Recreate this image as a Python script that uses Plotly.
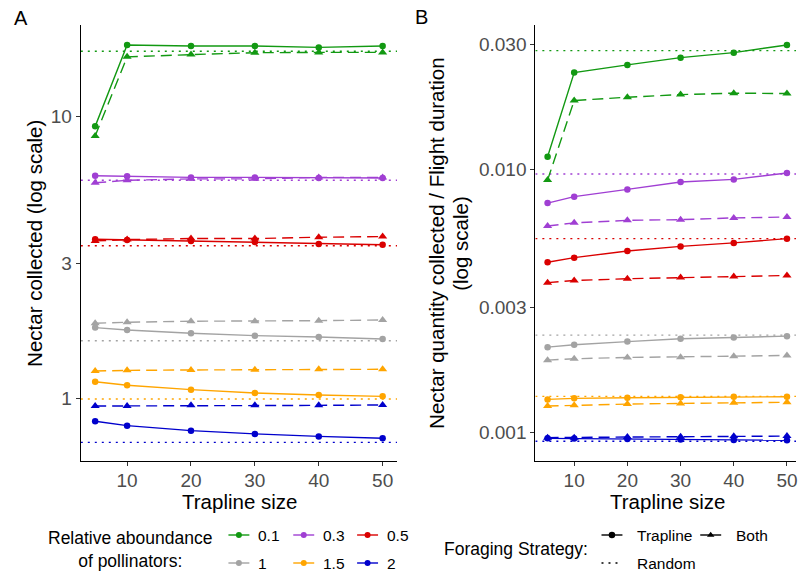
import plotly.graph_objects as go

# ---------------- data ----------------
trapline_size = [5, 10, 20, 30, 40, 50]
abundance = ["0.1", "0.3", "0.5", "1", "1.5", "2"]
colors = ["#129912", "#A03FD3", "#DA0000", "#A3A3A3", "#FFA500", "#0000CC"]

# Panel A: nectar collected
nectar_trapline = [
    [9.19, 17.84, 17.7, 17.7, 17.5, 17.7],
    [6.14, 6.12, 6.06, 6.06, 6.03, 6.03],
    [3.66, 3.64, 3.61, 3.58, 3.52, 3.50],
    [1.78, 1.746, 1.70, 1.667, 1.649, 1.622],
    [1.145, 1.112, 1.073, 1.044, 1.027, 1.016],
    [0.829, 0.80, 0.768, 0.748, 0.733, 0.722],
]
nectar_both = [
    [8.5, 16.2, 16.5, 16.76, 16.8, 16.8],
    [5.80, 5.92, 5.99, 5.99, 6.06, 6.06],
    [3.61, 3.65, 3.68, 3.68, 3.72, 3.74],
    [1.844, 1.86, 1.875, 1.875, 1.884, 1.894],
    [1.249, 1.256, 1.26, 1.263, 1.267, 1.267],
    [0.939, 0.939, 0.944, 0.944, 0.944, 0.947],
]
nectar_random = [16.95, 5.92, 3.47, 1.60, 0.994, 0.698]

# Panel B: nectar / flight duration
rate_trapline = [
    [0.01121, 0.02342, 0.02505, 0.0267, 0.0279, 0.02983],
    [0.00747, 0.0079, 0.00842, 0.00898, 0.00919, 0.00972],
    [0.00445, 0.00463, 0.00491, 0.00511, 0.00527, 0.00547],
    [0.002114, 0.00216, 0.00222, 0.002275, 0.0023, 0.002328],
    [0.001338, 0.00135, 0.001358, 0.001362, 0.00137, 0.00137],
    [0.000951, 0.000949, 0.000946, 0.000941, 0.000937, 0.000935],
]
rate_both = [
    [0.00914, 0.01834, 0.01888, 0.01932, 0.01956, 0.0195],
    [0.00611, 0.00628, 0.00642, 0.00646, 0.00656, 0.00661],
    [0.00372, 0.00379, 0.00385, 0.00389, 0.00393, 0.00396],
    [0.001887, 0.00191, 0.001932, 0.001937, 0.001954, 0.001966],
    [0.001262, 0.00127, 0.001284, 0.001292, 0.0013, 0.001304],
    [0.000957, 0.000957, 0.000962, 0.000965, 0.000968, 0.00097],
]
rate_random = [0.02839, 0.00963, 0.00547, 0.002349, 0.001374, 0.000927]

x_ticks = [10, 20, 30, 40, 50]
a_ticks = [1, 3, 10]
a_ticktext = ["1", "3", "10"]
b_ticks = [0.001, 0.003, 0.01, 0.03]
b_ticktext = ["0.001", "0.003", "0.010", "0.030"]
strategies = ["Trapline", "Both", "Random"]

# ---------------- layout helpers ----------------
W, H = 798, 574
FONT = "Liberation Sans, Arial, sans-serif"
xrange_a = [2.75, 52.25]
xrange_b = [2.7, 51.7]
LW = 1.4
DASH = "11px,6px"
DOT = "2px,5px"


def px(x):
    return x / W


def py(y):
    return 1 - y / H


fig = go.Figure()

panels = [
    ("x", "y", nectar_trapline, nectar_both, nectar_random, xrange_a),
    ("x2", "y2", rate_trapline, rate_both, rate_random, xrange_b),
]
for xa, ya, trap, both, rnd, xr in panels:
    for i, col in enumerate(colors):
        fig.add_trace(go.Scatter(
            x=xr, y=[rnd[i], rnd[i]], mode="lines", xaxis=xa, yaxis=ya,
            line=dict(color=col, width=LW, dash=DOT), showlegend=False, hoverinfo="skip"))
    for i, col in enumerate(colors):
        fig.add_trace(go.Scatter(
            x=trapline_size, y=both[i], mode="lines+markers", xaxis=xa, yaxis=ya,
            line=dict(color=col, width=LW, dash=DASH),
            marker=dict(symbol="triangle-up", size=8, color=col),
            showlegend=False, name=abundance[i]))
        fig.add_trace(go.Scatter(
            x=trapline_size, y=trap[i], mode="lines+markers", xaxis=xa, yaxis=ya,
            line=dict(color=col, width=LW),
            marker=dict(symbol="circle", size=6.5, color=col),
            showlegend=False, name=abundance[i]))

# ---------------- manual legends (overlay axis in pixel units) ----------------
col_key_x = [229, 294, 358]
row_key_y = [535, 563]
for i, lab in enumerate(abundance):
    r, c = divmod(i, 3)
    x0 = col_key_x[c]
    yk = row_key_y[r]
    fig.add_trace(go.Scatter(
        x=[x0, x0 + 21], y=[yk, yk], mode="lines", xaxis="x3", yaxis="y3",
        line=dict(color=colors[i], width=LW), showlegend=False, hoverinfo="skip"))
    fig.add_trace(go.Scatter(
        x=[x0 + 10.5], y=[yk], mode="markers", xaxis="x3", yaxis="y3",
        marker=dict(symbol="circle", size=6, color=colors[i]), showlegend=False, hoverinfo="skip"))
    fig.add_annotation(x=px(x0 + 28), y=py(yk), xref="paper", yref="paper", text=lab,
                       showarrow=False, xanchor="left", yanchor="middle",
                       font=dict(family=FONT, size=15.5, color="black"))

fig.add_annotation(x=px(130), y=py(549), xref="paper", yref="paper",
                   text="Relative aboundance<br>of pollinators:", showarrow=False,
                   xanchor="center", yanchor="middle", align="center",
                   font=dict(family=FONT, size=17.5, color="black"))

strat_keys = [(603, 535, "circle", "solid"), (702, 535, "triangle-up", "solid"), (603, 563, None, DOT)]
for (x0, yk, sym, dash), lab in zip(strat_keys, strategies):
    fig.add_trace(go.Scatter(
        x=[x0, x0 + 21], y=[yk, yk], mode="lines", xaxis="x3", yaxis="y3",
        line=dict(color="black", width=LW, dash=dash), showlegend=False, hoverinfo="skip"))
    if sym:
        fig.add_trace(go.Scatter(
            x=[x0 + 10.5], y=[yk], mode="markers", xaxis="x3", yaxis="y3",
            marker=dict(symbol=sym, size=6.5, color="black"), showlegend=False, hoverinfo="skip"))
    fig.add_annotation(x=px(x0 + 34), y=py(yk), xref="paper", yref="paper", text=lab,
                       showarrow=False, xanchor="left", yanchor="middle",
                       font=dict(family=FONT, size=15.5, color="black"))

fig.add_annotation(x=px(591), y=py(549), xref="paper", yref="paper",
                   text="Foraging Strategy:", showarrow=False,
                   xanchor="right", yanchor="middle",
                   font=dict(family=FONT, size=17.5, color="black"))

# ---------------- titles ----------------
title_font = dict(family=FONT, size=20.5, color="black")
fig.add_annotation(x=px(12), y=py(18), xref="paper", yref="paper", text="A", showarrow=False,
                   xanchor="left", yanchor="middle", font=dict(family=FONT, size=20, color="black"))
fig.add_annotation(x=px(414), y=py(17), xref="paper", yref="paper", text="B", showarrow=False,
                   xanchor="left", yanchor="middle", font=dict(family=FONT, size=20, color="black"))
fig.add_annotation(x=px(35), y=py(243), xref="paper", yref="paper",
                   text="Nectar collected (log scale)", textangle=-90, showarrow=False,
                   xanchor="center", yanchor="middle", font=title_font)
fig.add_annotation(x=px(438), y=py(243), xref="paper", yref="paper",
                   text="Nectar quantity collected / Flight duration", textangle=-90, showarrow=False,
                   xanchor="center", yanchor="middle", font=title_font)
fig.add_annotation(x=px(462), y=py(243), xref="paper", yref="paper",
                   text="(log scale)", textangle=-90, showarrow=False,
                   xanchor="center", yanchor="middle", font=title_font)
fig.add_annotation(x=px(240), y=py(501), xref="paper", yref="paper", text="Trapline size",
                   showarrow=False, xanchor="center", yanchor="middle", font=title_font)
fig.add_annotation(x=px(669), y=py(501), xref="paper", yref="paper", text="Trapline size",
                   showarrow=False, xanchor="center", yanchor="middle", font=title_font)

# ---------------- axes ----------------
tick_font = dict(family=FONT, size=19, color="#4D4D4D")
common_x = dict(showgrid=False, zeroline=False, showline=True, linecolor="black", linewidth=1.1,
                ticks="outside", ticklen=4, tickcolor="#333333", tickwidth=1.1,
                tickvals=x_ticks, tickfont=tick_font, ticklabeloverflow="allow",
                ticklabelstandoff=-2)
common_y = dict(type="log", showgrid=False, zeroline=False, showline=True, linecolor="black",
                linewidth=1.1, ticks="outside", ticklen=4, tickcolor="#333333", tickwidth=1.1,
                tickfont=tick_font)
y_dom = [py(461), py(25)]
fig.update_layout(
    width=W, height=H, autosize=False,
    margin=dict(l=0, r=0, t=0, b=0),
    paper_bgcolor="white", plot_bgcolor="rgba(0,0,0,0)",
    showlegend=False,
    xaxis=dict(domain=[px(81), px(398)], range=xrange_a, anchor="y", **common_x),
    yaxis=dict(domain=y_dom, range=[-0.2221, 1.3224], anchor="x",
               tickvals=a_ticks, ticktext=a_ticktext, **common_y),
    xaxis2=dict(domain=[px(536.7), 1.0], range=xrange_b, anchor="y2", **common_x),
    yaxis2=dict(domain=y_dom, range=[-3.1079, -1.4493], anchor="x2",
                tickvals=b_ticks, ticktext=b_ticktext, **common_y),
    xaxis3=dict(domain=[0, 1], range=[0, W], visible=False, anchor="y3", fixedrange=True),
    yaxis3=dict(domain=[0, 1], range=[H, 0], visible=False, anchor="x3", fixedrange=True),
)

fig.write_html(
    "out.html",
    config={"displayModeBar": False},
    post_script="document.body.style.margin='0';document.body.style.overflow='hidden';",
)
